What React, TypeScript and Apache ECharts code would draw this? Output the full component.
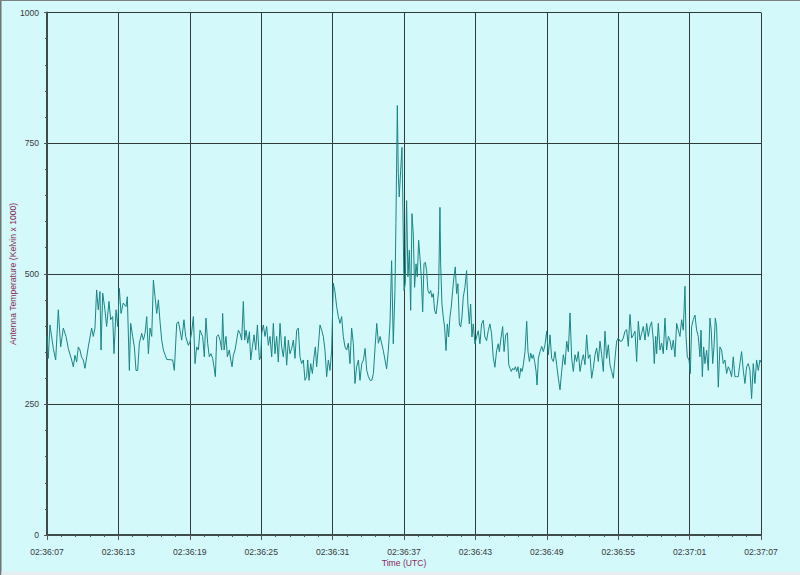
import React, { useEffect, useRef } from "react";
import * as echarts from "echarts";

// Seconds after 02:36:07 UTC, antenna temperature (Kelvin x 1000)
const quietStart: [number, number][] = [
  [0, 380], [0.11, 338], [0.25, 402], [0.53, 357], [0.73, 335], [0.95, 431], [1.15, 360], [1.37, 396],
  [1.6, 380], [1.79, 357], [2.07, 335], [2.21, 322], [2.35, 344], [2.49, 331], [2.63, 360], [2.77, 354],
  [2.91, 340], [3.05, 335], [3.19, 319], [3.47, 360], [3.75, 396], [3.89, 380], [4.03, 396], [4.17, 469],
  [4.31, 431], [4.45, 466], [4.54, 354], [4.68, 463], [4.87, 431], [5.01, 399], [5.21, 447], [5.35, 412],
  [5.52, 418], [5.63, 347], [5.8, 431], [5.94, 399], [6.08, 472], [6.22, 424], [6.41, 444], [6.64, 437],
  [6.75, 456], [6.92, 315], [7.03, 405], [7.2, 380], [7.34, 360], [7.48, 315], [7.62, 315], [7.76, 367],
  [7.96, 386], [8.1, 373], [8.24, 386], [8.38, 418], [8.52, 347], [8.66, 396], [8.8, 380], [8.94, 488],
  [9.08, 456], [9.22, 424], [9.36, 450], [9.5, 408], [9.64, 373], [9.78, 354], [10.06, 336], [10.56, 335],
  [10.7, 315], [10.9, 405], [11.04, 408], [11.18, 392], [11.32, 373], [11.51, 412], [11.65, 380], [11.88, 363],
  [12.02, 370], [12.16, 389], [12.3, 418], [12.44, 328], [12.58, 360], [12.72, 354], [12.86, 392], [13.08, 380],
  [13.22, 341], [13.36, 415], [13.5, 367], [13.64, 341], [13.78, 347], [13.92, 338], [14.03, 322], [14.15, 303],
  [14.26, 380],
];

const preBurst: [number, number][] = [
  [14.4, 383], [14.54, 373], [14.68, 354], [14.76, 424], [14.88, 354], [15.04, 380], [15.16, 341], [15.32, 354],
  [15.44, 335], [15.55, 322], [15.66, 344], [15.8, 354], [15.94, 373], [16.08, 392], [16.22, 386], [16.36, 373],
  [16.5, 447], [16.61, 373], [16.73, 392], [16.87, 367], [17.01, 389], [17.12, 335], [17.26, 360], [17.4, 383],
  [17.54, 354], [17.68, 402], [17.85, 335], [17.96, 341], [18.04, 386], [18.18, 402], [18.32, 380], [18.46, 399],
  [18.6, 363], [18.74, 380], [18.88, 341], [19.02, 405], [19.16, 347], [19.3, 380], [19.44, 331], [19.58, 405],
  [19.72, 360], [19.86, 341], [20.0, 380], [20.14, 325], [20.28, 373], [20.42, 347], [20.56, 357], [20.7, 373],
  [20.84, 338], [20.98, 392], [21.12, 396], [21.26, 341], [21.4, 328], [21.54, 335], [21.68, 296], [21.82, 303],
  [21.91, 335], [22.02, 296], [22.16, 328], [22.3, 309], [22.44, 341], [22.55, 360], [22.66, 322], [22.8, 360],
  [22.94, 402], [23.08, 392], [23.22, 380], [23.36, 354], [23.5, 303], [23.64, 335], [23.78, 315], [23.92, 354],
  [24.06, 482], [24.2, 466], [24.34, 437], [24.48, 418], [24.62, 405], [24.76, 418], [24.9, 380], [25.04, 360],
  [25.18, 354], [25.32, 367], [25.46, 328], [25.6, 396], [25.74, 367], [25.88, 290], [26.02, 322], [26.17, 335],
  [26.3, 296], [26.45, 328], [26.59, 335], [26.73, 357], [26.87, 315], [27.01, 303], [27.15, 296], [27.29, 296],
  [27.43, 309], [27.57, 360], [27.71, 405], [27.85, 367], [27.99, 380],
];

const burst: [number, number][] = [
  [28.26, 353], [28.54, 318], [28.68, 353], [28.82, 404], [28.96, 525], [29.1, 366], [29.24, 468], [29.32, 596],
  [29.44, 822], [29.52, 691], [29.6, 647], [29.72, 698], [29.83, 742], [29.88, 672], [29.94, 570], [30.0, 468],
  [30.11, 481], [30.22, 640], [30.33, 494], [30.45, 545], [30.56, 430], [30.67, 615], [30.78, 576], [30.89, 474],
  [31.01, 519], [31.12, 494], [31.23, 564], [31.34, 532], [31.45, 494], [31.57, 427], [31.68, 519], [31.79, 522],
  [31.9, 506], [32.01, 468], [32.13, 462], [32.24, 468], [32.35, 455], [32.46, 462], [32.57, 430], [32.69, 423],
  [32.8, 442], [32.91, 468], [33.02, 627], [33.08, 519], [33.19, 442], [33.3, 417], [33.41, 398], [33.53, 353],
  [33.64, 404], [33.75, 379], [33.86, 417], [33.97, 436], [34.09, 468], [34.2, 494], [34.31, 513], [34.42, 462],
  [34.53, 481], [34.65, 404], [34.76, 398], [34.87, 417], [34.98, 455], [35.12, 474], [35.26, 506], [35.37, 442],
  [35.49, 404], [35.6, 442], [35.71, 379], [35.82, 404], [35.96, 366], [36.1, 379], [36.24, 391], [36.38, 366],
  [36.52, 404], [36.66, 411], [36.8, 379], [36.94, 372], [37.08, 391], [37.22, 404], [37.36, 385], [37.5, 340],
  [37.64, 321], [37.78, 353], [37.92, 366],
];

const decay: [number, number][] = [
  [38.01, 351], [38.15, 377], [38.29, 399], [38.41, 351], [38.55, 383], [38.69, 387], [38.8, 326], [38.91, 319],
  [39.02, 313], [39.13, 319], [39.25, 316], [39.36, 322], [39.47, 313], [39.58, 322], [39.7, 300], [39.81, 319],
  [39.92, 313], [40.03, 326], [40.17, 351], [40.31, 409], [40.42, 351], [40.54, 332], [40.65, 348], [40.76, 338],
  [40.87, 345], [40.98, 332], [41.1, 313], [41.18, 287], [41.29, 338], [41.43, 351], [41.57, 361], [41.71, 351],
  [41.85, 364], [41.99, 390], [42.13, 345], [42.27, 383], [42.41, 338], [42.55, 332], [42.69, 351], [42.83, 326],
  [42.97, 300], [43.11, 278], [43.25, 313], [43.39, 345], [43.53, 326], [43.67, 371], [43.81, 351], [43.95, 425],
  [44.09, 338], [44.23, 313], [44.37, 345], [44.51, 332], [44.65, 351], [44.79, 313], [44.93, 332], [45.07, 345],
  [45.21, 326], [45.35, 383], [45.49, 338], [45.63, 345], [45.77, 300], [45.91, 319], [46.05, 345], [46.19, 358],
  [46.33, 332], [46.47, 371], [46.61, 345], [46.75, 313], [46.89, 390], [47.03, 338], [47.17, 364], [47.31, 326],
  [47.45, 313], [47.59, 300], [47.73, 338], [47.87, 371], [48.01, 377], [48.15, 371], [48.29, 371], [48.43, 377],
  [48.57, 390], [48.71, 393], [48.85, 361], [48.99, 422], [49.13, 377], [49.27, 383], [49.41, 390], [49.55, 332],
  [49.69, 409],
];

const tail: [number, number][] = [
  [49.83, 373], [49.97, 386], [50.11, 399], [50.25, 373], [50.39, 405], [50.53, 380], [50.67, 399], [50.81, 408],
  [50.95, 373], [51.03, 328], [51.15, 380], [51.23, 347], [51.37, 405], [51.51, 354], [51.65, 367], [51.79, 347],
  [51.93, 415], [52.07, 354], [52.21, 380], [52.35, 373], [52.49, 354], [52.63, 373], [52.77, 341], [52.91, 405],
  [53.05, 392], [53.19, 380], [53.33, 412], [53.47, 392], [53.61, 476], [53.7, 380], [53.81, 341], [53.95, 335],
  [54.06, 309], [54.17, 399], [54.31, 412], [54.45, 421], [54.59, 392], [54.73, 380], [54.87, 341], [54.96, 392],
  [55.07, 303], [55.18, 360], [55.29, 328], [55.43, 354], [55.57, 315], [55.71, 415], [55.82, 392], [55.94, 328],
  [56.05, 360], [56.16, 415], [56.27, 399], [56.41, 283], [56.55, 360], [56.69, 354], [56.83, 328], [56.97, 335],
  [57.11, 309], [57.25, 322], [57.39, 315], [57.53, 303], [57.67, 341], [57.81, 303], [57.95, 303], [58.09, 303],
  [58.23, 328], [58.37, 351], [58.51, 315], [58.65, 290], [58.79, 322], [58.93, 328], [59.07, 315], [59.21, 261],
  [59.35, 328], [59.49, 290], [59.63, 335], [59.77, 315], [59.91, 335], [60, 330],
];

const startClock = "02:36:07";
const xSpanSeconds = 60;
const xStepSeconds = 6;
const yTicks = [0, 250, 500, 750, 1000];

const FONT = "'Liberation Sans', Arial, Helvetica, sans-serif";
const BG = "#d3f9fb";
const GRID = "#303c3c";
const AXIS = "#3f4b4b";
const LABEL = "#3a3a3a";
const TITLE = "#8b2a5a";
const LINE = "#1a8585";

function clockLabel(v: number): string {
  const [h, m, s] = startClock.split(":").map(Number);
  let t = h * 3600 + m * 60 + s + Math.round(v);
  const hh = Math.floor(t / 3600);
  t -= hh * 3600;
  const mm = Math.floor(t / 60);
  const ss = t - mm * 60;
  const p = (n: number) => String(n).padStart(2, "0");
  return `${p(hh)}:${p(mm)}:${p(ss)}`;
}

export default function App() {
  const ref = useRef<HTMLDivElement>(null);

  useEffect(() => {
    document.body.style.margin = "0";
    if (!ref.current) return;
    const chart = echarts.init(ref.current, undefined, { renderer: "svg" });
    const data = [...quietStart, ...preBurst, ...burst, ...decay, ...tail];
    const yMax = yTicks[yTicks.length - 1];
    const yStep = yTicks[1] - yTicks[0];

    chart.setOption({
      animation: false,
      backgroundColor: BG,
      grid: { left: 47, right: 39, top: 12.5, bottom: 40 },
      xAxis: [
        {
          type: "value",
          min: 0,
          max: xSpanSeconds,
          interval: xStepSeconds,
          axisLine: { show: true, lineStyle: { color: AXIS, width: 2 } },
          axisTick: { show: false },
          axisLabel: { show: false },
          splitLine: { show: true, lineStyle: { color: GRID, width: 1 } },
        },
        {
          type: "value",
          min: 0,
          max: xSpanSeconds,
          interval: xStepSeconds,
          position: "bottom",
          offset: 3,
          axisLine: { show: false },
          axisTick: { show: true, length: 5, lineStyle: { color: "#555", width: 1 } },
          minorTick: { show: true, splitNumber: 5, length: 2, lineStyle: { color: "#555", width: 1 } },
          splitLine: { show: false },
          axisLabel: {
            show: true,
            margin: 9,
            fontSize: 8.6,
            fontFamily: FONT,
            color: LABEL,
            formatter: (v: number) => clockLabel(v),
          },
        },
      ],
      yAxis: [
        {
          type: "value",
          min: 0,
          max: yMax,
          interval: yStep,
          axisLine: { show: true, lineStyle: { color: AXIS, width: 2 } },
          axisTick: { show: false },
          axisLabel: { show: false },
          splitLine: { show: true, lineStyle: { color: GRID, width: 1 } },
        },
        {
          type: "value",
          min: 0,
          max: yMax,
          interval: yStep,
          position: "left",
          offset: 2,
          axisLine: { show: false },
          axisTick: { show: true, length: 3, lineStyle: { color: "#555", width: 1 } },
          minorTick: { show: true, splitNumber: 5, length: 2, lineStyle: { color: "#555", width: 1 } },
          splitLine: { show: false },
          axisLabel: {
            show: true,
            margin: 6,
            fontSize: 8.6,
            fontFamily: FONT,
            color: LABEL,
            formatter: (v: number) => String(v),
          },
        },
      ],
      series: [
        {
          type: "line",
          xAxisIndex: 0,
          yAxisIndex: 0,
          data,
          showSymbol: false,
          symbol: "none",
          lineStyle: { color: LINE, width: 1 },
          z: 3,
        },
      ],
      graphic: [
        { type: "rect", shape: { x: 0, y: 0, width: 1.5, height: 575 }, style: { fill: "#6f7676" }, silent: true },
        { type: "rect", shape: { x: 0, y: 0, width: 800, height: 1 }, style: { fill: "#7b8282" }, silent: true },
        { type: "rect", shape: { x: 1.5, y: 571.5, width: 798.5, height: 3.5 }, style: { fill: "#e3eeee" }, silent: true },
        {
          type: "text",
          x: 404,
          y: 563,
          style: {
            text: "Time (UTC)",
            fontSize: 8.6,
            fontFamily: FONT,
            fill: TITLE,
            align: "center",
            verticalAlign: "middle",
          },
        },
        {
          type: "text",
          x: 12.5,
          y: 274,
          rotation: Math.PI / 2,
          style: {
            text: "Antenna Temperature (Kelvin x 1000)",
            fontSize: 8.6,
            fontFamily: FONT,
            fill: TITLE,
            align: "center",
            verticalAlign: "middle",
          },
        },
      ],
    });

    return () => chart.dispose();
  }, []);

  return <div ref={ref} style={{ width: 800, height: 575, background: BG }} />;
}
